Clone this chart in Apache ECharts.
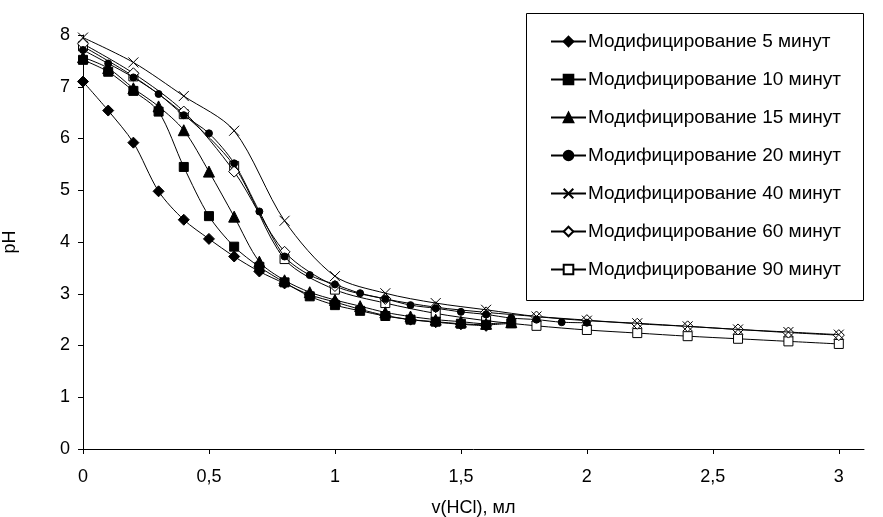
<!DOCTYPE html>
<html>
<head>
<meta charset="utf-8">
<script src="https://cdn.jsdelivr.net/npm/echarts@6/dist/echarts.min.js"></script>
<style>
html,body{margin:0;padding:0;background:#fff;}
#chart{width:883px;height:517px;}
</style>
</head>
<body>
<div id="chart"></div>
<script>
// ---- data ----
const seriesNames = [
  'Модифицирование 5 минут',
  'Модифицирование 10 минут',
  'Модифицирование 15 минут',
  'Модифицирование 20 минут',
  'Модифицирование 40 минут',
  'Модифицирование 60 минут',
  'Модифицирование 90 минут'
];
const x5  = [0,0.1,0.2,0.3,0.4,0.5,0.6,0.7,0.8,0.9,1.0,1.1,1.2,1.3,1.4,1.5,1.6];
const y5  = [7.10,6.54,5.92,4.98,4.43,4.06,3.72,3.43,3.20,2.98,2.84,2.70,2.58,2.50,2.45,2.41,2.38];
const x10 = [0,0.1,0.2,0.3,0.4,0.5,0.6,0.7,0.8,0.9,1.0,1.1,1.2,1.3,1.4,1.5,1.6,1.7];
const y10 = [7.52,7.29,6.92,6.52,5.45,4.50,3.91,3.52,3.22,2.95,2.78,2.67,2.57,2.50,2.46,2.42,2.40,2.43];
const x15 = [0,0.1,0.2,0.3,0.4,0.5,0.6,0.7,0.8,0.9,1.0,1.1,1.2,1.3,1.4,1.5,1.6,1.7];
const y15 = [7.57,7.36,6.97,6.62,6.16,5.36,4.49,3.62,3.26,3.03,2.88,2.76,2.64,2.56,2.50,2.46,2.42,2.45];
const x20 = [0,0.1,0.2,0.3,0.4,0.5,0.6,0.7,0.8,0.9,1.0,1.1,1.2,1.3,1.4,1.5,1.6,1.7,1.8,1.9,2.0];
const y20 = [7.71,7.45,7.18,6.86,6.45,6.10,5.52,4.59,3.72,3.36,3.18,3.01,2.90,2.78,2.72,2.65,2.60,2.53,2.50,2.45,2.44];
const x40 = [0,0.2,0.4,0.6,0.8,1.0,1.2,1.4,1.6,1.8,2.0,2.2,2.4,2.6,2.8,3.0];
const y40 = [7.95,7.47,6.82,6.15,4.41,3.34,3.01,2.82,2.69,2.56,2.48,2.43,2.37,2.31,2.26,2.21];
const x60 = [0,0.2,0.4,0.6,0.8,1.0,1.2,1.4,1.6,1.8,2.0,2.2,2.4,2.6,2.8,3.0];
const y60 = [7.83,7.26,6.52,5.36,3.81,3.15,2.90,2.74,2.64,2.56,2.49,2.42,2.37,2.31,2.25,2.20];
const x90 = [0,0.2,0.4,0.6,0.8,1.0,1.2,1.4,1.6,1.8,2.0,2.2,2.4,2.6,2.8,3.0];
const y90 = [7.78,7.20,6.47,5.47,3.67,3.08,2.82,2.62,2.48,2.38,2.30,2.24,2.18,2.13,2.08,2.03];
const xTicks = [0,0.5,1,1.5,2,2.5,3];
const yTicks = [0,1,2,3,4,5,6,7,8];
const xTitle = 'v(HCl), мл';
const yTitle = 'pH';

// ---- build ----
const pairs = (xs, ys) => xs.map((v, i) => [v, ys[i]]);
const xsAll = [x5, x10, x15, x20, x40, x60, x90];
const ysAll = [y5, y10, y15, y20, y40, y60, y90];
const crossPath = 'path://M0,0L10,10M10,0L0,10';
const styles = [
  {symbol: 'diamond', size: 11, fill: '#000'},
  {symbol: 'rect', size: 9, fill: '#000'},
  {symbol: 'triangle', size: 11, fill: '#000'},
  {symbol: 'circle', size: 7, fill: '#000'},
  {symbol: crossPath, size: 10, fill: '#000'},
  {symbol: 'diamond', size: 11, fill: '#fff'},
  {symbol: 'rect', size: 9, fill: '#fff'}
];
const series = seriesNames.map((name, i) => ({
  name: name,
  type: 'line',
  data: pairs(xsAll[i], ysAll[i]),
  smooth: 0.3,
  symbol: styles[i].symbol,
  symbolSize: styles[i].size,
  showAllSymbol: true,
  lineStyle: {color: '#000', width: 1},
  itemStyle: {color: styles[i].fill, borderColor: '#000', borderWidth: 1},
  emphasis: {disabled: true},
  z: 10 - i
}));

const chart = echarts.init(document.getElementById('chart'), null, {renderer: 'canvas'});
const font = 'Liberation Sans, Arial, sans-serif';
chart.setOption({
  animation: false,
  backgroundColor: '#fff',
  textStyle: {fontFamily: font},
  grid: {left: 83, top: 35, width: 781, height: 414, containLabel: false, outerBoundsMode: 'none'},
  xAxis: {
    type: 'value', min: 0, max: 3.1,
    name: xTitle, nameLocation: 'middle', nameGap: 50,
    nameTextStyle: {color: '#000', fontSize: 18, fontFamily: font},
    axisLine: {show: true, onZero: false, lineStyle: {color: '#000', width: 1}},
    axisTick: {show: true, inside: false, length: 5, customValues: xTicks, lineStyle: {color: '#000'}},
    axisLabel: {color: '#000', fontSize: 18, margin: 19, fontFamily: font, customValues: xTicks,
      formatter: v => String(v).replace('.', ',')},
    splitLine: {show: false}
  },
  yAxis: {
    type: 'value', min: 0, max: 8, interval: 1,
    name: yTitle, nameLocation: 'middle', nameGap: 64, nameRotate: 90,
    nameTextStyle: {color: '#000', fontSize: 18, fontFamily: font},
    axisLine: {show: true, onZero: false, lineStyle: {color: '#000', width: 1}},
    axisTick: {show: true, inside: false, length: 5, lineStyle: {color: '#000'}},
    axisLabel: {color: '#000', fontSize: 18, margin: 13, fontFamily: font},
    splitLine: {show: false}
  },
  legend: {
    show: true,
    orient: 'vertical',
    left: 545, top: 27,
    itemWidth: 35, itemHeight: 12, itemGap: 19,
    textStyle: {color: '#000', fontSize: 19, fontFamily: font, padding: [0,0,0,-3]},
    selectedMode: false,
    data: seriesNames
  },
  graphic: [{
    type: 'rect', left: 524, top: 11,
    shape: {width: 337, height: 287},
    style: {fill: 'none', stroke: '#000', lineWidth: 1}, z: 0
  }],
  series: series
});
</script>
</body>
</html>
